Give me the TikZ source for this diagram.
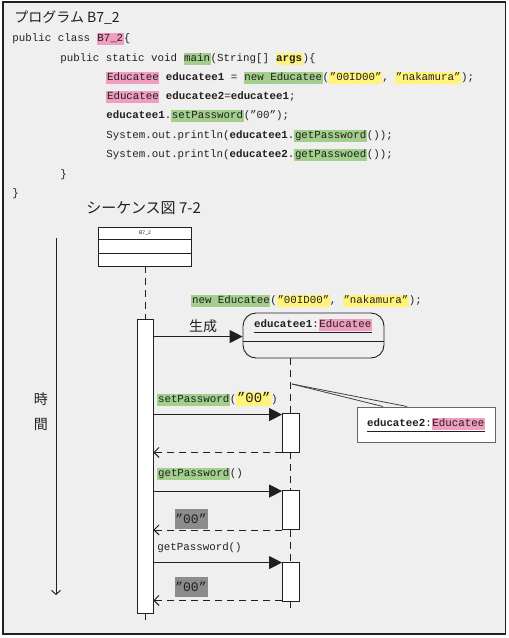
\documentclass[tikz,border=0pt]{standalone}
\usepackage{fontspec}
\setmainfont{Liberation Sans}
\newfontfamily\jp{Noto Sans CJK JP}
\newfontfamily\code{Liberation Mono}
\usetikzlibrary{arrows.meta,shadows}
\definecolor{bg}{HTML}{EFEFEF}
\definecolor{hlpink}{HTML}{F09DC0}
\definecolor{hlgreen}{HTML}{A2D08C}
\definecolor{hlyellow}{HTML}{FFF37A}
\definecolor{hlgray}{HTML}{8C8C8C}
\definecolor{ink}{HTML}{231F20}
\newcommand\hl[2]{{\setlength\fboxsep{0.6pt}\colorbox{#1}{\rule[-2.6pt]{0pt}{10.8pt}#2}}}
\begin{document}
\begin{tikzpicture}[x=1pt,y=-1pt, line width=0.9pt, draw=ink, text=ink,
  txt/.style={inner sep=0,anchor=west,font=\code\fontsize{10.8}{13}\selectfont},
  jptxt/.style={inner sep=0,font=\jp\fontsize{14}{16}\selectfont},
  box/.style={draw,fill=white,inner sep=0},
  dsh/.style={dash pattern=on 7pt off 5pt},
  msg/.style={-{Triangle[length=13pt,width=13pt]}},
  ret/.style={dsh,-{Straight Barb[length=5pt,width=10pt]}},
  grayl/.style={fill=hlgray,inner sep=0,minimum width=33,minimum height=20,font=\code\fontsize{13}{15}\selectfont}]
\useasboundingbox (0,0) rectangle (509,638);
\fill[white] (0,0) rectangle (509,638);
\draw[fill=bg,line width=1.3pt] (3,2) rectangle (505.5,634);

% program text
\node[jptxt,anchor=west] (title) at (14,18) {プログラム B7\_2};
\node[txt] (l1) at (12,39) {public class \hl{hlpink}{B7\_2}\{};
\node[txt] (l2) at (60,59) {public static void \hl{hlgreen}{main}(String[] \hl{hlyellow}{\textbf{args}})\{};
\node[txt] (l3) at (106,78) {\hl{hlpink}{Educatee} \textbf{educatee1} = \hl{hlgreen}{new Educatee}(\hl{hlyellow}{”00ID00”}, \hl{hlyellow}{”nakamura”});};
\node[txt] (l4) at (106,97) {\hl{hlpink}{Educatee} \textbf{educatee2}=\textbf{educatee1};};
\node[txt] (l5) at (106,116) {\textbf{educatee1}.\hl{hlgreen}{setPassword}(”00”);};
\node[txt] (l6) at (106,136) {System.out.println(\textbf{educatee1}.\hl{hlgreen}{getPassword}());};
\node[txt] (l7) at (106,155) {System.out.println(\textbf{educatee2}.\hl{hlgreen}{getPasswoed}());};
\node[txt] (l8) at (60,175) {\}};
\node[txt] (l9) at (12,194) {\}};
\node[jptxt,anchor=west,font=\jp\fontsize{15}{17}\selectfont] (title2) at (86,208) {シーケンス図 7-2};

% class box
\node[box,minimum width=93,minimum height=39] (cls) at (145,246.5) {};
\node[inner sep=0,font=\rmfamily\fontsize{5}{6}\selectfont] (clsname) at ([yshift=-6.5pt]cls.north) {B7\_2};
\draw ([yshift=-13pt]cls.north west) -- ([yshift=-13pt]cls.north east);
\draw ([yshift=13pt]cls.south west) -- ([yshift=13pt]cls.south east);

% activation bar of B7_2
\node[box,minimum width=16,minimum height=294] (bar) at (145,466) {};
\draw[dsh] (cls.south) -- (bar.north);
\coordinate (barend) at (145,625);
\draw[dsh] (bar.south) -- (barend);

% time arrow
\coordinate (ts) at (56,238);
\coordinate (te) at (56,595);
\draw[-{Straight Barb[length=4pt,width=9pt]}] (ts) -- (te);
\node[jptxt] (ji) at (41,399) {時};
\node[jptxt] (kan) at (41,424) {間};

% creation
\node[txt] (newlbl) at (191,301) {\hl{hlgreen}{new Educatee}(\hl{hlyellow}{”00ID00”}, \hl{hlyellow}{”nakamura”});};
\node[jptxt] (seisei) at (203,326) {生成};
\node[draw,fill=bg,rounded corners=13pt,minimum width=141,minimum height=45,inner sep=0] (obj) at (313.5,335.5) {};
\coordinate (sepy) at (0,341);
\draw (obj.west |- sepy) -- (obj.east |- sepy);
\node[txt,anchor=center] (objlbl) at (313,326) {\underline{\textbf{educatee1}:\hl{hlpink}{Educatee}}};
\coordinate (m0) at ([yshift=-18pt]bar.north east);
\draw[msg] (m0) -- (m0 -| obj.west);

% lifeline of educatee1
\node[box,minimum width=17,minimum height=39] (act1) at (291,432.5) {};
\node[box,minimum width=17,minimum height=39] (act2) at (291,510) {};
\node[box,minimum width=17,minimum height=39] (act3) at (291,581.5) {};
\coordinate (ol) at (290,358);
\coordinate (oend) at (290,609);
\draw[dsh] (ol) -- (ol |- act1.north);
\draw[dsh] (ol |- act1.south) -- (ol |- act2.north);
\draw[dsh] (ol |- act2.south) -- (ol |- act3.north);
\draw[dsh] (ol |- act3.south) -- (oend);

% note educatee2
\node[draw=black!60,fill=white,line width=1pt,minimum width=138,minimum height=35,inner sep=0,
  drop shadow={opacity=0.35,shadow xshift=1.2pt,shadow yshift=-1.2pt}] (note) at (426,424.5)
  {\code\fontsize{10.8}{13}\selectfont\underline{\textbf{educatee2}:\hl{hlpink}{Educatee}}};
\coordinate (np) at (292,384);
\draw[black!75,line width=0.8pt] (np) -- ([xshift=-43pt]note.north);
\draw[black!75,line width=0.8pt] (np) -- ([xshift=-19pt]note.north);

% messages
\node[txt] (ml1) at (157,399) {\hl{hlgreen}{setPassword}(\hl{hlyellow}{\fontsize{14}{16}\selectfont ”00”})};
\coordinate (m1) at ([yshift=-2pt]act1.north west);
\draw[msg] (m1 -| bar.east) -- (m1);
\draw[ret] (act1.south west) -- (act1.south west -| bar.east);

\node[txt] (ml2) at (157,474) {\hl{hlgreen}{getPassword}()};
\coordinate (m2) at ([yshift=-1pt]act2.north west);
\draw[msg] (m2 -| bar.east) -- (m2);
\node[grayl] (r2l) at (191,519) {”00”};
\draw[ret] (act2.south west) -- (act2.south west -| bar.east);

\node[txt] (ml3) at (157,548) {getPassword()};
\coordinate (m3) at ([yshift=-1pt]act3.north west);
\draw[msg] (m3 -| bar.east) -- (m3);
\node[grayl] (r3l) at (191,587) {”00”};
\draw[ret] ([yshift=1pt]act3.south west) -- ([yshift=1pt]act3.south west -| bar.east);
\end{tikzpicture}
\end{document}
